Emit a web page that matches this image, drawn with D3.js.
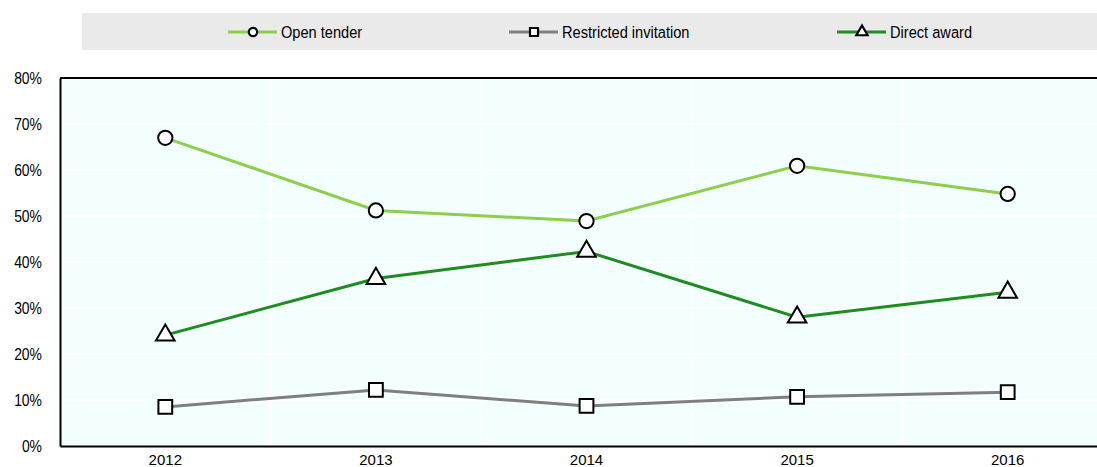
<!DOCTYPE html>
<html><head><meta charset="utf-8">
<script src="https://cdn.jsdelivr.net/npm/d3@7"></script>
<style>
body{margin:0;background:#fff;}
svg text{font-family:"Liberation Sans Narrow","Arial Narrow","Liberation Sans",sans-serif;fill:#000;}
</style></head>
<body><svg id="c" width="1097" height="467"></svg>
<script>
const years = ["2012","2013","2014","2015","2016"];
const openTender = [67.0, 51.2, 48.9, 60.9, 54.8];
const restricted = [8.5, 12.2, 8.7, 10.7, 11.7];
const directAward = [24.1, 36.4, 42.3, 28.0, 33.4];
const yTicks = [0,10,20,30,40,50,60,70,80];
const seriesNames = ["Open tender","Restricted invitation","Direct award"];
const seriesColors = ["#8ccf4d","#7f7f7f","#1e8c1e"];
const seriesSymbols = [d3.symbolCircle, d3.symbolSquare, d3.symbolTriangle];
const seriesData = [openTender, restricted, directAward];

const SX = 0.86, SY = 0.82;
const svg = d3.select("#c");
const L=60, R=1113, T=78, B=446;
const x = d3.scaleBand().domain(years).range([L,R]);
const y = d3.scaleLinear().domain([0,80]).range([B,T]);

// legend
svg.append("rect").attr("x",82).attr("y",13).attr("width",1015).attr("height",37).attr("fill","#eaeaea");
const legX=[228,509,837];
seriesNames.forEach((n,i)=>{
  const g=svg.append("g").attr("transform",`translate(${legX[i]},32)`);
  g.append("line").attr("x1",0).attr("x2",49).attr("stroke",seriesColors[i]).attr("stroke-width",3);
  g.append("path").attr("d",d3.symbol().type(seriesSymbols[i]).size(i==1?64:55)()).attr("transform","translate(25,0)")
    .attr("fill","#fff").attr("stroke","#000").attr("stroke-width",2.2);
  g.append("text").attr("transform",`translate(53,6) scale(${SX},1)`).attr("font-size",17).text(n);
});

// plot background
svg.append("rect").attr("x",L).attr("y",T).attr("width",R-L).attr("height",B-T).attr("fill","#f3ffff");
// gridlines
svg.append("g").selectAll("line").data(yTicks.slice(1,-1)).join("line")
  .attr("x1",L).attr("x2",R).attr("y1",d=>y(d)).attr("y2",d=>y(d)).attr("stroke","#fff").attr("stroke-width",1.5);
svg.append("g").selectAll("line").data(years.slice(1)).join("line")
  .attr("x1",d=>x(d)).attr("x2",d=>x(d)).attr("y1",T).attr("y2",B).attr("stroke","#fff").attr("stroke-width",1.5);
// frame
svg.append("line").attr("x1",L).attr("x2",R).attr("y1",T).attr("y2",T).attr("stroke","#000").attr("stroke-width",2);

// axes
const yAxis = svg.append("g").attr("transform",`translate(${L},0)`)
  .call(d3.axisLeft(y).tickValues(yTicks).tickFormat(d=>d+"%").tickSize(0).tickPadding(18));
yAxis.select(".domain").attr("stroke","#000").attr("stroke-width",2);
yAxis.selectAll("text").attr("font-size",17).attr("x",-18/SY).attr("transform",`scale(${SY},1)`);
const xAxis = svg.append("g").attr("transform",`translate(0,${B})`)
  .call(d3.axisBottom(x).tickSize(0).tickPadding(8));
xAxis.select(".domain").attr("stroke","#000").attr("stroke-width",2);
xAxis.selectAll("text").attr("font-size",15);

// lines
const line = d3.line().x((d,i)=>x(years[i])+x.bandwidth()/2).y(d=>y(d));
seriesData.forEach((data,i)=>{
  svg.append("path").datum(data).attr("d",line).attr("fill","none").attr("stroke",seriesColors[i]).attr("stroke-width",3);
});
seriesData.forEach((data,i)=>{
  svg.append("g").selectAll("path").data(data).join("path")
    .attr("d",d3.symbol().type(seriesSymbols[i]).size(i==0?160:i==1?190:150)())
    .attr("transform",(d,j)=>`translate(${x(years[j])+x.bandwidth()/2},${y(d)})`)
    .attr("fill","#fff").attr("stroke","#000").attr("stroke-width",2);
});
</script></body></html>
